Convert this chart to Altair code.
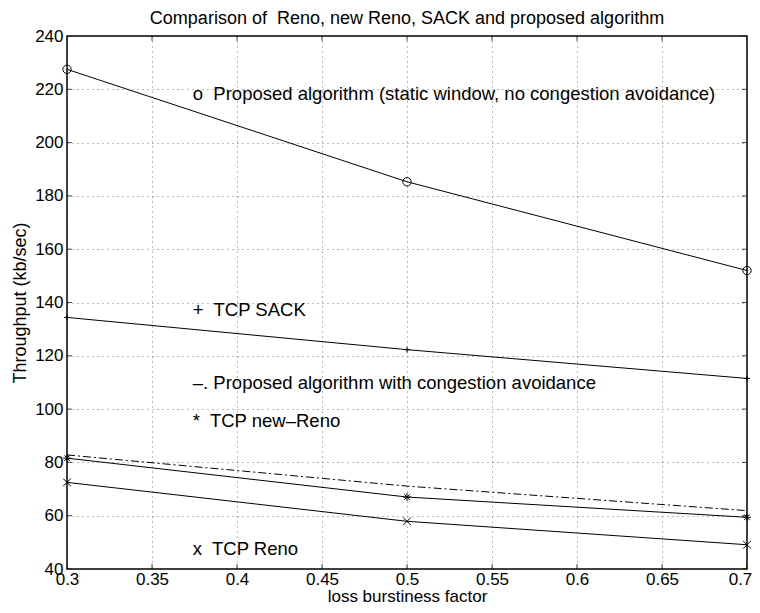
import altair as alt
import pandas as pd

# ---- data ----
x_vals = [0.3, 0.5, 0.7]
proposed_static = [227.5, 185.3, 152.0]
tcp_sack = [134.4, 122.3, 111.5]
proposed_ca = [82.8, 71.1, 61.9]
tcp_new_reno = [81.6, 67.0, 59.4]
tcp_reno = [72.5, 57.9, 49.1]

x_ticks = [0.3, 0.35, 0.4, 0.45, 0.5, 0.55, 0.6, 0.65, 0.7]
y_ticks = [40, 60, 80, 100, 120, 140, 160, 180, 200, 220, 240]

title_text = "Comparison of \u00a0Reno, new Reno, SACK and proposed algorithm"
x_title = "loss burstiness factor"
y_title = "Throughput (kb/sec)"

FONT = "Liberation Sans"

xs = alt.Scale(domain=[0.3, 0.7], nice=False, zero=False)
ys = alt.Scale(domain=[40, 240], nice=False, zero=False)

PLUS = "M-1,0L1,0M0,-1L0,1"
CROSS = "M-1,-1L1,1M-1,1L1,-1"
STAR = "M-1,0L1,0M0,-1L0,1M-0.72,-0.72L0.72,0.72M-0.72,0.72L0.72,-0.72"


def series_df(vals):
    return pd.DataFrame({"x": x_vals, "y": vals})


X = alt.X("x:Q", scale=xs,
          axis=alt.Axis(values=x_ticks, format="~g", title=x_title, grid=True,
                        labelFlush=False,
                        labelOffset={"condition": {"test": "datum.value >= 0.69", "value": -7},
                                     "value": 0}))
Y = alt.Y("y:Q", scale=ys,
          axis=alt.Axis(values=y_ticks, title=y_title, grid=True, labelFlush=False))

axes_layer = alt.Chart(series_df(proposed_static)).mark_point(opacity=0).encode(x=X, y=Y)


def line(vals, dash=None):
    kw = {"color": "black", "strokeWidth": 1}
    if dash:
        kw["strokeDash"] = dash
    return alt.Chart(series_df(vals)).mark_line(**kw).encode(
        x=alt.X("x:Q", scale=xs), y=alt.Y("y:Q", scale=ys))


def markers(vals, shape, size):
    return alt.Chart(series_df(vals)).mark_point(shape=shape, size=size, filled=False,
                                                 color="black", strokeWidth=1, opacity=1).encode(
        x=alt.X("x:Q", scale=xs), y=alt.Y("y:Q", scale=ys))


layers = [
    axes_layer,
    line(proposed_static), markers(proposed_static, "circle", 70),
    line(tcp_sack), markers(tcp_sack, PLUS, 36),
    line(proposed_ca, [8, 3, 2, 3]),
    line(tcp_new_reno), markers(tcp_new_reno, STAR, 60),
    line(tcp_reno), markers(tcp_reno, CROSS, 60),
]

# inward tick marks on all four sides (clipped halves)
xt = pd.DataFrame({"x": x_ticks})
yt = pd.DataFrame({"y": y_ticks})
for yb in (40, 240):
    layers.append(alt.Chart(xt).mark_tick(orient="vertical", size=10, thickness=1,
                                          color="black", clip=True).encode(
        x=alt.X("x:Q", scale=xs), y=alt.YDatum(yb)))
for xb in (0.3, 0.7):
    layers.append(alt.Chart(yt).mark_tick(orient="horizontal", size=10, thickness=1,
                                          color="black", clip=True).encode(
        y=alt.Y("y:Q", scale=ys), x=alt.XDatum(xb)))

# annotations
ann = [
    ("o\u00a0 Proposed algorithm (static window, no congestion avoidance)", 218.2),
    ("+\u00a0 TCP SACK", 137.2),
    ("\u2013. Proposed algorithm with congestion avoidance", 109.8),
    ("*\u00a0 TCP new\u2013Reno", 95.5),
    ("x\u00a0 TCP Reno", 47.5),
]
for txt, yv in ann:
    layers.append(alt.Chart(pd.DataFrame({"t": [txt]})).mark_text(
        align="left", baseline="middle", fontSize=18.5, font=FONT, color="black").encode(
        x=alt.XDatum(0.374), y=alt.YDatum(yv), text="t:N"))

chart = alt.layer(*layers).properties(
    width=680, height=533,
    title=alt.TitleParams(title_text, fontSize=18, font=FONT, fontWeight="normal",
                          color="black", offset=-1),
    autosize=alt.AutoSizeParams(type="none"),
    padding={"left": 59, "top": 28, "right": 5, "bottom": 36},
).configure_view(stroke="black", strokeWidth=1.5).configure_axis(
    domain=False, ticks=False, labelFont=FONT, labelFontSize=17, labelColor="black",
    titleFont=FONT, titleFontSize=18, titleFontWeight="normal", titleColor="black",
    gridColor="#444", gridDash=[1, 4], gridWidth=0.8, gridOpacity=0.9,
    labelPadding=4,
).configure_axisX(labelPadding=2, titlePadding=1, titleFontSize=17).configure_axisY(titlePadding=5)

chart.save("out.html", embed_options={"renderer": "svg", "actions": False})
